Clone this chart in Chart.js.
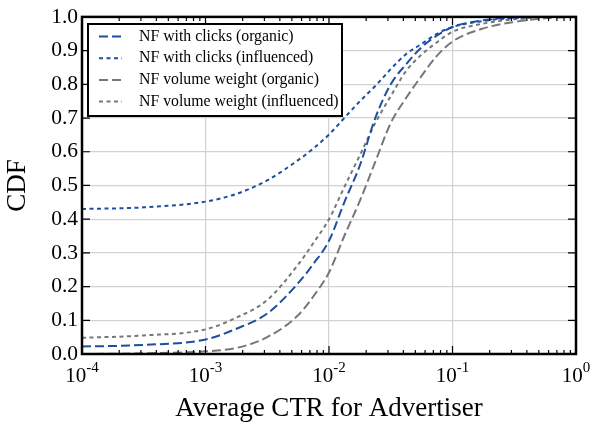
<!DOCTYPE html>
<html>
<head>
<meta charset="utf-8">
<script src="https://cdn.jsdelivr.net/npm/chart.js@4.4.1/dist/chart.umd.min.js"></script>
<style>
  html, body { margin: 0; padding: 0; background: #fff; }
  #wrap { width: 590px; height: 423px; }
</style>
</head>
<body>
<div id="wrap"><canvas id="cdf"></canvas></div>
<script>
// average CTR sample points (log-spaced)
const ctrValues = [0.0001, 0.000316, 0.001, 0.00178, 0.00316, 0.00562, 0.0075, 0.01, 0.0133, 0.0178, 0.0237,
  0.0316, 0.0422, 0.0562, 0.075, 0.1, 0.178, 0.316, 0.562, 1];

const clicksOrganic = [0.022, 0.027, 0.043, 0.075, 0.12, 0.21, 0.268, 0.336, 0.45, 0.56, 0.70,
  0.80, 0.86, 0.91, 0.945, 0.97, 0.99, 0.998, 1.0, 1.0];
const clicksInfluenced = [0.43, 0.435, 0.452, 0.475, 0.515, 0.575, 0.61, 0.651, 0.70, 0.75, 0.795,
  0.845, 0.89, 0.92, 0.95, 0.97, 0.988, 0.997, 1.0, 1.0];
const volumeOrganic = [0.0, 0.002, 0.008, 0.018, 0.05, 0.115, 0.172, 0.242, 0.35, 0.455, 0.57,
  0.685, 0.76, 0.825, 0.885, 0.927, 0.966, 0.985, 0.996, 1.0];
const volumeInfluenced = [0.048, 0.055, 0.073, 0.108, 0.16, 0.265, 0.33, 0.40, 0.495, 0.59, 0.685,
  0.765, 0.84, 0.888, 0.925, 0.956, 0.98, 0.993, 0.999, 1.0];

const seriesNames = [
  "NF with clicks (organic)",
  "NF with clicks (influenced)",
  "NF volume weight (organic)",
  "NF volume weight (influenced)"
];
const xDecades = [-4, -3, -2, -1, 0];
const yTicks = [0, 0.1, 0.2, 0.3, 0.4, 0.5, 0.6, 0.7, 0.8, 0.9, 1.0];

const BLUE = "#1d4f9e";
const GREY = "#777777";
const SERIF = "'Liberation Serif', 'Times New Roman', serif";

function points(values) {
  return ctrValues.map((c, i) => ({ x: c, y: values[i] }));
}

function line(label, values, color, dash) {
  return {
    label,
    data: points(values),
    borderColor: color,
    borderWidth: 2,
    borderDash: dash,
    pointRadius: 0,
    fill: false,
    cubicInterpolationMode: "monotone",
  };
}

// inside tick marks, heavy frame, 10^n labels and the boxed legend
const frameAndLabels = {
  id: "frameAndLabels",
  afterDraw(chart) {
    const { ctx, chartArea: a } = chart;
    const x = chart.scales.x;
    const y = chart.scales.y;
    ctx.save();
    ctx.strokeStyle = "#000";
    ctx.lineWidth = 1.2;
    ctx.beginPath();
    xDecades.forEach((d, i) => {
      const px = x.getPixelForValue(Math.pow(10, d));
      ctx.moveTo(px, a.bottom); ctx.lineTo(px, a.bottom - 8);
      ctx.moveTo(px, a.top); ctx.lineTo(px, a.top + 8);
      if (i === xDecades.length - 1) return;
      for (let k = 2; k < 10; k++) {
        const mp = x.getPixelForValue(k * Math.pow(10, d));
        ctx.moveTo(mp, a.bottom); ctx.lineTo(mp, a.bottom - 4);
        ctx.moveTo(mp, a.top); ctx.lineTo(mp, a.top + 4);
      }
    });
    yTicks.forEach((v) => {
      const py = y.getPixelForValue(v);
      ctx.moveTo(a.left, py); ctx.lineTo(a.left + 8, py);
      ctx.moveTo(a.right, py); ctx.lineTo(a.right - 8, py);
    });
    ctx.stroke();
    ctx.lineWidth = 2.5;
    ctx.strokeRect(a.left, a.top, a.right - a.left, a.bottom - a.top);

    ctx.fillStyle = "#000";
    ctx.textBaseline = "alphabetic";
    ctx.textAlign = "left";
    xDecades.forEach((d) => {
      const px = x.getPixelForValue(Math.pow(10, d));
      const exp = d === 0 ? "0" : "-" + Math.abs(d);
      ctx.font = "21px " + SERIF;
      const wb = ctx.measureText("10").width;
      ctx.font = "15px " + SERIF;
      const we = ctx.measureText(exp).width;
      const left = px - (wb + we) / 2;
      ctx.font = "21px " + SERIF;
      ctx.fillText("10", left, a.bottom + 28);
      ctx.font = "15px " + SERIF;
      ctx.fillText(exp, left + wb, a.bottom + 18);
    });

    // legend box
    const lx = 88, ly = 24, lw = 254, lh = 92;
    ctx.fillStyle = "#fff";
    ctx.fillRect(lx, ly, lw, lh);
    ctx.lineWidth = 2;
    ctx.strokeStyle = "#000";
    ctx.strokeRect(lx, ly, lw, lh);
    ctx.font = "15.8px " + SERIF;
    ctx.textBaseline = "middle";
    chart.data.datasets.forEach((ds, i) => {
      const rowY = ly + 12.5 + i * 21.7;
      ctx.strokeStyle = ds.borderColor;
      ctx.lineWidth = 2;
      ctx.setLineDash(ds.borderDash);
      ctx.beginPath();
      ctx.moveTo(99, rowY);
      ctx.lineTo(122, rowY);
      ctx.stroke();
      ctx.setLineDash([]);
      ctx.fillStyle = "#000";
      ctx.fillText(ds.label, 139, rowY);
    });
    ctx.restore();
  }
};

new Chart(document.getElementById("cdf"), {
  type: "line",
  data: {
    datasets: [
      line(seriesNames[0], clicksOrganic, BLUE, [9, 4]),
      line(seriesNames[1], clicksInfluenced, BLUE, [4, 3.5]),
      line(seriesNames[2], volumeOrganic, GREY, [9, 4]),
      line(seriesNames[3], volumeInfluenced, GREY, [4, 3.5]),
    ],
  },
  options: {
    responsive: true,
    maintainAspectRatio: false,
    animation: false,
    layout: { padding: { left: 0, top: 16, right: 14, bottom: 0 } },
    plugins: { legend: { display: false }, tooltip: { enabled: false } },
    scales: {
      x: {
        type: "logarithmic",
        min: 0.0001,
        max: 1,
        afterBuildTicks: (s) => { s.ticks = xDecades.map((d) => ({ value: Math.pow(10, d) })); },
        afterFit: (s) => { s.height = 69; },
        ticks: { display: false },
        grid: { color: "#d2d2d2", lineWidth: 1.2, drawTicks: false },
        border: { display: false },
        title: {
          display: true,
          text: "Average CTR for Advertiser",
          color: "#000",
          font: { family: SERIF, size: 27 },
          padding: { top: 0, bottom: -2 },
        },
      },
      y: {
        min: 0,
        max: 1,
        afterBuildTicks: (s) => { s.ticks = yTicks.map((v) => ({ value: v })); },
        afterFit: (s) => { s.width = 82; },
        ticks: {
          color: "#000",
          padding: 4,
          font: { family: SERIF, size: 21.5 },
          callback: (v) => Number(v).toFixed(1),
        },
        grid: { color: "#d2d2d2", lineWidth: 1.2, drawTicks: false },
        border: { display: false },
        title: {
          display: true,
          text: "CDF",
          color: "#000",
          font: { family: SERIF, size: 27 },
          padding: { top: 2, bottom: 0 },
        },
      },
    },
  },
  plugins: [frameAndLabels],
});
</script>
</body>
</html>
